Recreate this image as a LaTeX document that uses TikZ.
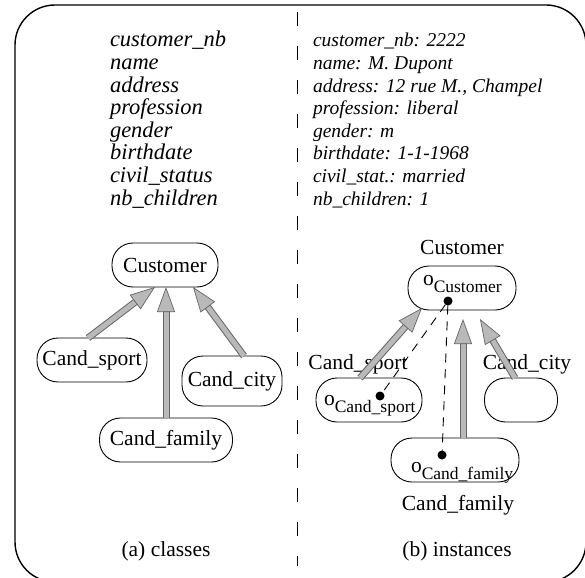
\documentclass[tikz,border=0pt]{standalone}
\usepackage{fontspec}
\setmainfont{Liberation Serif}
\usetikzlibrary{arrows.meta}
% object identifier: "o" with the class name as a subscript
\newcommand{\objid}[1]{o\raisebox{-7pt}{\fontsize{17.5}{18}\selectfont #1}}
\begin{document}
\begin{tikzpicture}[x=1pt,y=-1pt,
  every node/.style={inner sep=0pt, outer sep=0pt},
  txt/.style={font=\fontsize{21.5}{22}\selectfont},
  attr/.style={font=\fontsize{22.5}{22}\selectfont\itshape, anchor=base west},
  val/.style={font=\fontsize{19.5}{22}\selectfont\itshape, anchor=base west},
  oval/.style={draw, line width=0.9pt, rounded corners=21pt, minimum height=44pt,
    font=\fontsize{21.5}{22}\selectfont},
  isa/.style={draw=gray!55, line width=5pt,
    preaction={draw=black!60, line width=7pt, arrows=-, shorten >=18pt},
    -{Triangle[length=25pt, width=18pt, line width=0.7pt, fill=gray!55, color=black!60]}},
  link/.style={line width=0.9pt, dash pattern=on 9pt off 7pt},
  dot/.style={circle, fill=black, minimum size=9pt},
  separator/.style={line width=1pt, dash pattern=on 14pt off 20pt},
]
\useasboundingbox (0,0) rectangle (585,577);

% outer frame
\begin{scope}
  \clip (0,0) rectangle (585,577);
  \draw[line width=1.4pt, rounded corners=40pt] (15,5) rectangle (586,582);
\end{scope}

% column separator
\coordinate (sepTop) at (297,12);
\coordinate (sepBot) at (297,566);
\draw[separator] (sepTop) -- (sepBot);

% attributes of the class
\foreach \t [count=\i] in {customer\_nb, name, address, profession, gender,
    birthdate, civil\_status, nb\_children}
  \node[attr] (la\i) at (110,{47+22.6*(\i-1)}) {\t};

% values of the instance
\foreach \t [count=\i] in {customer\_nb: 2222, name: M. Dupont,
    {address: 12 rue M., Champel}, profession: liberal, gender: m,
    birthdate: 1-1-1968, civil\_stat.: married, nb\_children: 1}
  \node[val] (ra\i) at (313,{47+22.6*(\i-1)}) {\t};

% (a) class hierarchy
\node[oval, minimum width=106pt] (C) at (165,265) {Customer};
\node[oval, minimum width=110pt] (S) at (92,360) {Cand\_sport};
\node[oval, minimum width=100pt, minimum height=50pt] (Ci) at (232,381) {Cand\_city};
\node[oval, minimum width=133pt] (F) at (166,440) {Cand\_family};

\draw[isa] ([xshift=-4pt]S.north) -- ([xshift=-10pt]C.south);
\draw[isa] (F.north) -- (F.north |- C.south);
\draw[isa] ([xshift=12pt]Ci.north) -- ([xshift=28pt]C.south);

\node[txt] (capA) at (166,551) {(a) classes};

% (b) instances
\node[txt] (CL) at (462,247) {Customer};
\node[oval, minimum width=108pt] (C2) at (462,288) {};
\node[txt, anchor=base west] (oC) at (423,285) {\objid{Customer}};
\node[dot] (dC) at (448,301) {};

\node[txt] (SL) at (358,364) {Cand\_sport};
\node[oval, minimum width=106pt] (S2) at (369,400) {};
\node[txt, anchor=base west] (oS) at (324,405) {\objid{Cand\_sport}};
\node[dot] (dS) at (380,396) {};

\node[txt] (CiL) at (527,364) {Cand\_city};
\node[oval, minimum width=73pt] (Ci2) at (521,400) {};

\node[oval, minimum width=128pt] (F2) at (455,460) {};
\node[txt, anchor=base west] (oF) at (411,472) {\objid{Cand\_family}};
\node[dot] (dF) at (442,455) {};
\node[txt] (FL) at (458,505) {Cand\_family};

\draw[link] (dC) -- (dS);
\draw[link] (dC) -- (dF);

\draw[isa] ([xshift=-9pt]S2.north) -- ([xshift=-40pt,yshift=2pt]C2.south);
\draw[isa] ([xshift=8pt]F2.north) -- ([xshift=1pt,yshift=-9pt]C2.south);
\draw[isa] ([xshift=-6pt]Ci2.north) -- ([xshift=18pt,yshift=-9pt]C2.south);

\node[txt] (capB) at (457,551) {(b) instances};
\end{tikzpicture}
\end{document}
